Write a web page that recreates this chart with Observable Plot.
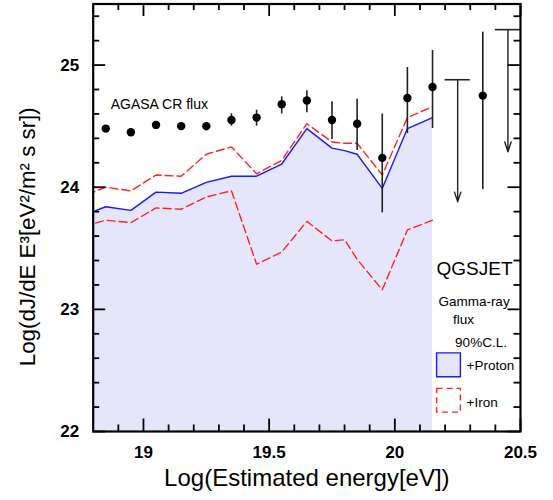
<!DOCTYPE html>
<html>
<head>
<meta charset="utf-8">
<script src="https://cdn.jsdelivr.net/npm/d3@7"></script>
<script src="https://cdn.jsdelivr.net/npm/@observablehq/plot@0.6"></script>
<style>
  html, body { margin: 0; padding: 0; background: #fff; }
  svg { display: block; }
</style>
</head>
<body>
<div id="chart"></div>
<script>
// ---- Data ----
// AGASA cosmic-ray flux points
const agasaX  = [18.85, 18.95, 19.05, 19.15, 19.25, 19.35, 19.45, 19.55, 19.65, 19.75, 19.85, 19.95, 20.05, 20.15, 20.35];
const agasaY  = [24.48, 24.45, 24.51, 24.50, 24.50, 24.55, 24.57, 24.68, 24.71, 24.55, 24.52, 24.24, 24.73, 24.82, 24.75];
const agasaLo = [24.47, 24.435, 24.49, 24.48, 24.46, 24.50, 24.50, 24.60, 24.61, 24.39, 24.30, 23.79, 24.44, 24.48, 23.98];
const agasaHi = [24.50, 24.465, 24.52, 24.515, 24.53, 24.60, 24.63, 24.74, 24.79, 24.70, 24.72, 24.60, 24.98, 25.12, 25.27];

// AGASA upper limits
const limitX   = [20.25, 20.45];
const limitTop = [24.88, 25.29];
const limitTip = [23.88, 24.29];
const binHalfWidth = 0.05;

// Gamma-ray flux 90% C.L. (QGSJET)
const modelX      = [18.80, 18.85, 18.95, 19.05, 19.15, 19.25, 19.35, 19.45, 19.55, 19.65, 19.75, 19.80, 19.85, 19.95, 20.05, 20.15];
const protonUpper = [23.80, 23.84, 23.81, 23.96, 23.95, 24.04, 24.09, 24.09, 24.19, 24.48, 24.32, 24.30, 24.27, 23.99, 24.48, 24.57];
const ironUpper   = [23.96, 24.00, 23.97, 24.10, 24.09, 24.27, 24.33, 24.11, 24.22, 24.52, 24.37, 24.36, 24.36, 24.10, 24.57, 24.66];
const ironLower   = [23.70, 23.73, 23.71, 23.83, 23.82, 23.92, 23.97, 23.37, 23.47, 23.72, 23.56, 23.57, 23.41, 23.16, 23.65, 23.73];

// Axes
const xDomain = [18.8, 20.5];
const yDomain = [22, 25.5];
const xMajor = [19, 19.5, 20, 20.5];
const xMinor = [18.9, 19.1, 19.2, 19.3, 19.4, 19.6, 19.7, 19.8, 19.9, 20.1, 20.2, 20.3, 20.4];
const yMajor = [22, 23, 24, 25];
const yMinor = [22.2, 22.4, 22.6, 22.8, 23.2, 23.4, 23.6, 23.8, 24.2, 24.4, 24.6, 24.8, 25.2, 25.4];

// Text
const xLabel = "Log(Estimated energy[eV])";
const yLabel = "Log(dJ/dE E\u00B3[eV\u00B2/m\u00B2 s sr])";
const agasaLabel = "AGASA CR flux";
const modelLabel = "QGSJET";
const legendTitle1 = "Gamma-ray";
const legendTitle2 = "flux";
const legendTitle3 = "90%C.L.";
const legendProton = "+Proton";
const legendIron = "+Iron";

// ---- Build tables ----
const agasa = agasaX.map((x, i) => ({x, y: agasaY[i], lo: agasaLo[i], hi: agasaHi[i]}));
const limits = limitX.map((x, i) => ({x, top: limitTop[i], tip: limitTip[i]}));
const proton = modelX.map((x, i) => ({x, y: protonUpper[i]}));
const ironOutline = [
  ...modelX.map((x, i) => ({x, y: ironLower[i]})).reverse(),
  ...modelX.map((x, i) => ({x, y: ironUpper[i]}))
];

// ---- Layout ----
const W = 553, H = 500;
const mL = 92.7, mR = 33, mT = 3.5, mB = 69;
const plotW = W - mL - mR, plotH = H - mT - mB;
const majorLen = 12.5, minorLen = 6.5;

const FILL = "#e6e6fa", BLUE = "#1a1aff", RED = "#ff2222";
const FONT = "'Liberation Sans', Arial, Helvetica, sans-serif";

const chart = Plot.plot({
  width: W, height: H,
  marginLeft: mL, marginRight: mR, marginTop: mT, marginBottom: mB,
  style: {fontFamily: FONT, background: "#fff", color: "#000"},
  x: {domain: xDomain},
  y: {domain: yDomain},
  marks: [
    // Proton region
    Plot.areaY(proton, {x: "x", y1: yDomain[0], y2: "y", fill: FILL}),
    Plot.line(proton, {x: "x", y: "y", stroke: BLUE, strokeWidth: 1.4}),
    // Iron region (dashed outline)
    Plot.line(ironOutline, {x: "x", y: "y", stroke: RED, strokeWidth: 1.4, strokeDasharray: "8,4"}),
    // AGASA error bars & points
    Plot.ruleX(agasa, {x: "x", y1: "lo", y2: "hi", stroke: "#222", strokeWidth: 1.6}),
    Plot.dot(agasa, {x: "x", y: "y", r: 4.2, fill: "#000", stroke: "none"}),
    // Upper limits
    Plot.ruleY(limits, {x1: d => d.x - binHalfWidth, x2: d => d.x + binHalfWidth, y: "top", stroke: "#222", strokeWidth: 1.6}),
    Plot.arrow(limits, {x1: "x", x2: "x", y1: "top", y2: "tip", stroke: "#222", strokeWidth: 1.4, headLength: 11, headAngle: 36}),
    // Frame
    Plot.frame({stroke: "#000", strokeWidth: 2.2}),
    // Inward ticks: bottom/top
    Plot.tickX(xMajor, {x: d => d, insetTop: plotH - majorLen, stroke: "#000", strokeWidth: 1.8}),
    Plot.tickX(xMinor, {x: d => d, insetTop: plotH - minorLen, stroke: "#000", strokeWidth: 1.8}),
    Plot.tickX(xMajor, {x: d => d, insetBottom: plotH - majorLen, stroke: "#000", strokeWidth: 1.8}),
    Plot.tickX(xMinor, {x: d => d, insetBottom: plotH - minorLen, stroke: "#000", strokeWidth: 1.8}),
    // Inward ticks: left/right
    Plot.tickY(yMajor, {y: d => d, insetRight: plotW - majorLen, stroke: "#000", strokeWidth: 1.8}),
    Plot.tickY(yMinor, {y: d => d, insetRight: plotW - minorLen, stroke: "#000", strokeWidth: 1.8}),
    Plot.tickY(yMajor, {y: d => d, insetLeft: plotW - majorLen, stroke: "#000", strokeWidth: 1.8}),
    Plot.tickY(yMinor, {y: d => d, insetLeft: plotW - minorLen, stroke: "#000", strokeWidth: 1.8}),
    // Tick labels
    Plot.axisX({ticks: xMajor, tickSize: 0, tickPadding: 14, tickFormat: d => String(d), fontSize: 17, fontWeight: "bold", label: null}),
    Plot.axisY({ticks: yMajor, tickSize: 0, tickPadding: 14, tickFormat: d => String(d), fontSize: 17, fontWeight: "bold", label: null}),
    // Axis titles
    Plot.text([xLabel], {text: d => d, frameAnchor: "bottom", dy: 47, textAnchor: "middle", lineAnchor: "middle", fontSize: 24}),
    Plot.text([yLabel], {text: d => d, frameAnchor: "left", rotate: -90, dx: -65, dy: 19, textAnchor: "middle", lineAnchor: "middle", fontSize: 22.3}),
    // Annotation
    Plot.text([agasaLabel], {text: d => d, frameAnchor: "top-left", dx: 17.5, dy: 100.5, textAnchor: "start", lineAnchor: "middle", fontSize: 14}),
    // Legend
    Plot.text([modelLabel], {text: d => d, frameAnchor: "bottom-right", dx: -84, dy: -163, textAnchor: "start", lineAnchor: "middle", fontSize: 19}),
    Plot.text([legendTitle1], {text: d => d, frameAnchor: "bottom-right", dx: -46.5, dy: -130, textAnchor: "middle", lineAnchor: "middle", fontSize: 13.5}),
    Plot.text([legendTitle2], {text: d => d, frameAnchor: "bottom-right", dx: -57, dy: -112.3, textAnchor: "middle", lineAnchor: "middle", fontSize: 13.5}),
    Plot.text([legendTitle3], {text: d => d, frameAnchor: "bottom-right", dx: -39.5, dy: -89, textAnchor: "middle", lineAnchor: "middle", fontSize: 13.5}),
    Plot.dot([legendProton], {frameAnchor: "bottom-right", dx: -72, dy: -66.7, symbol: "square", r: 13.4, fill: FILL, stroke: BLUE, strokeWidth: 1.4}),
    Plot.dot([legendIron], {frameAnchor: "bottom-right", dx: -72, dy: -31.3, symbol: "square", r: 13.4, fill: "none", stroke: RED, strokeWidth: 1.4, strokeDasharray: "6,4"}),
    Plot.text([legendProton], {text: d => d, frameAnchor: "bottom-right", dx: -54, dy: -66, textAnchor: "start", lineAnchor: "middle", fontSize: 13.5}),
    Plot.text([legendIron], {text: d => d, frameAnchor: "bottom-right", dx: -54, dy: -29.3, textAnchor: "start", lineAnchor: "middle", fontSize: 13.5})
  ]
});
document.getElementById("chart").appendChild(chart);
</script>
</body>
</html>
